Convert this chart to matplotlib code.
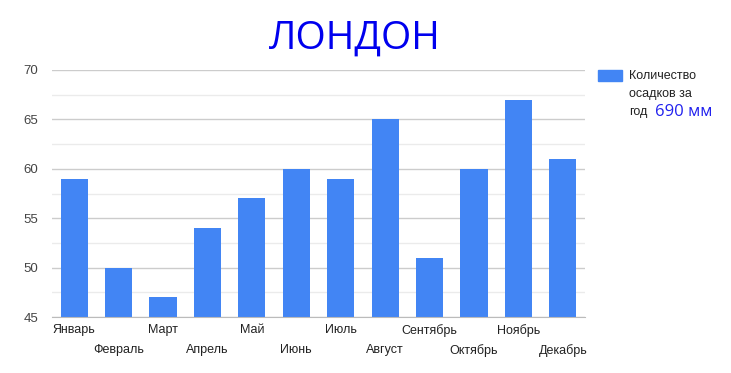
import matplotlib.pyplot as plt
import matplotlib.patches as mpatches

months = ['Январь', 'Февраль', 'Март', 'Апрель', 'Май', 'Июнь',
          'Июль', 'Август', 'Сентябрь', 'Октябрь', 'Ноябрь', 'Декабрь']
rain = [59, 50, 47, 54, 57, 60, 59, 65, 51, 60, 67, 61]
y_ticks = [45, 50, 55, 60, 65, 70]
total = sum(rain)

plt.rcParams['font.family'] = ['Liberation Sans', 'DejaVu Sans']

fig = plt.figure(figsize=(7.31, 3.73), dpi=100)
ax = fig.add_axes([52 / 731, 56 / 373, 533 / 731, 247 / 373])

x = list(range(len(months)))
ax.bar(x, rain, width=0.61, color='#4285f4', zorder=3)

ax.set_xlim(-0.5, len(months) - 0.5)
ax.set_ylim(45, 70)
ax.set_yticks(y_ticks)
ax.set_yticks([47.5, 52.5, 57.5, 62.5, 67.5], minor=True)
ax.grid(axis='y', which='major', color='#cccccc', lw=1, zorder=0)
ax.grid(axis='y', which='minor', color='#ebebeb', lw=1, zorder=0)
ax.tick_params(axis='y', which='both', length=0, labelsize=9.5, labelcolor='#444444', pad=10)

ax.set_xticks(x)
ax.set_xticklabels(months, fontsize=9, color='#222222')
ax.tick_params(axis='x', length=0, pad=5)
# every second label goes one row down
for t in ax.xaxis.get_major_ticks()[1::2]:
    t.set_pad(19.5)

for s in ['top', 'right', 'left']:
    ax.spines[s].set_visible(False)
ax.spines['bottom'].set_color('#bbbbbb')
ax.spines['bottom'].set_zorder(4)

fig.text(355 / 731, 1 - 39 / 373, 'ЛОНДОН', color='#0000ee', fontsize=28,
         family='Open Sans', ha='center', va='center')

fig.patches.append(mpatches.Rectangle((598 / 731, 1 - 81 / 373), 24 / 731, 11 / 373,
                                      transform=fig.transFigure, color='#4285f4'))
fig.text(629 / 731, 1 - 76 / 373, 'Количество', fontsize=9, color='#222222', va='center')
fig.text(629 / 731, 1 - 94 / 373, 'осадков за', fontsize=9, color='#222222', va='center')
fig.text(629 / 731, 1 - 112 / 373, 'год', fontsize=9, color='#222222', va='center')
fig.text(655 / 731, 1 - 112 / 373, '%d мм' % total, fontsize=12, color='#2222ee',
         family='Open Sans', va='center')

fig.savefig('out.png', dpi=100)
